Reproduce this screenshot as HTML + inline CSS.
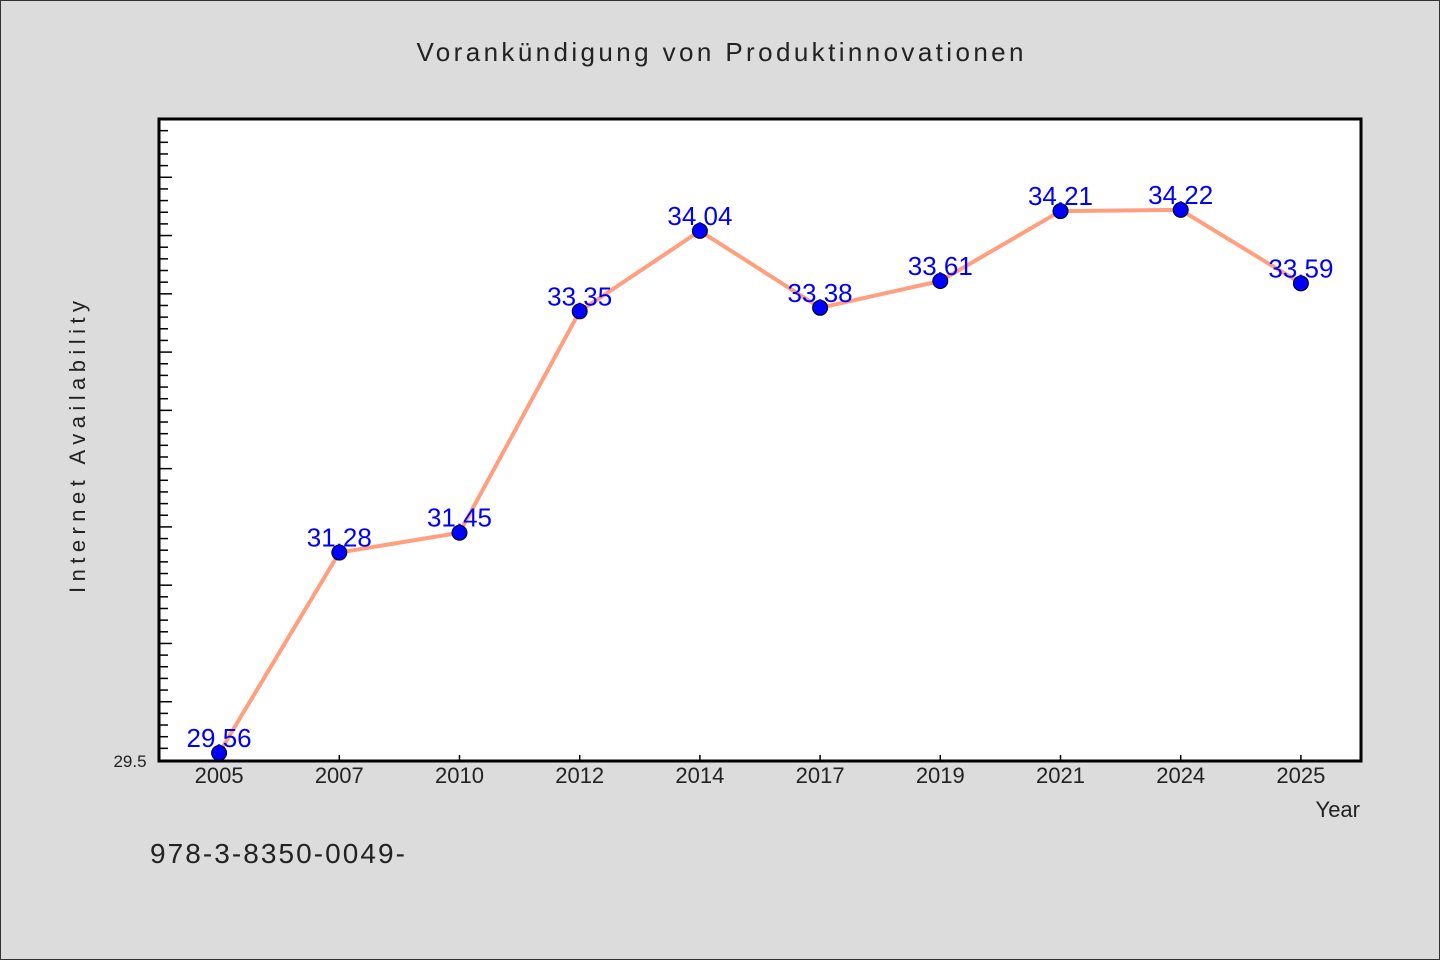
<!DOCTYPE html>
<html><head><meta charset="utf-8"><style>
html,body{margin:0;padding:0;background:#dcdcdc;}
svg{display:block;font-family:"WenQuanYi Zen Hei","Liberation Sans",sans-serif;}
</style></head><body>
<svg id="chart" width="1440" height="960" viewBox="0 0 1440 960">
<rect x="0.5" y="0.5" width="1439" height="959" fill="#dcdcdc" stroke="#333"/>
<text x="720" y="61" text-anchor="middle" font-size="26" textLength="607" fill="#222">Vorankündigung von Produktinnovationen</text>
<rect x="159" y="119" width="1202" height="642" fill="#fff"/>
<g id="ticks"></g>
<g id="series"></g>
<rect x="159" y="119" width="1202" height="642" fill="none" stroke="#000" stroke-width="3"/>
<text x="130" y="767" text-anchor="middle" font-size="17" fill="#222">29.5</text>
<text transform="translate(85,447) rotate(-90)" text-anchor="middle" font-size="22" textLength="292" fill="#222">Internet Availability</text>
<text x="1360" y="817" text-anchor="end" font-size="22" fill="#222">Year</text>
<text x="150" y="863" font-size="28" textLength="255" fill="#222">978-3-8350-0049-</text>
</svg>
<script>
const categories=["2005","2007","2010","2012","2014","2017","2019","2021","2024","2025"];
const values=[29.56,31.28,31.45,33.35,34.04,33.38,33.61,34.21,34.22,33.59];
const yMin=29.5, yMax=35.0;
const NS="http://www.w3.org/2000/svg";
const L=159,R=1361,T=119,B=760;
const band=(R-L)/categories.length;
function x(i){return L+band*(i+0.5);}
function y(v){return B-(v-yMin)/(yMax-yMin)*(B-T);}
function mk(t,a,p){const e=document.createElementNS(NS,t);for(const k in a)e.setAttribute(k,a[k]);p.appendChild(e);return e;}
const tg=document.getElementById('ticks');
for(let k=1;k<=55;k++){
  const v=yMin+k*0.1, yy=y(v), major=k%5===0;
  const t=mk('line',{x1:L,x2:L+(major?13:9),y1:yy,y2:yy,stroke:'#000','stroke-width':1.5},tg);
  
  
}
const sg=document.getElementById('series');
categories.forEach((c,i)=>{
  const t=mk('line',{x1:x(i),x2:x(i),y1:761,y2:755,stroke:'#000','stroke-width':1.5},tg);
  
  
  const lb=mk('text',{x:x(i),y:783,'text-anchor':'middle','font-size':22,fill:'#222'},tg);
  lb.textContent=c;
  
  
});
const pts=values.map((v,i)=>x(i)+','+y(v)).join(' ');
const line=mk('polyline',{points:pts,fill:'none',stroke:'#ff9f7f','stroke-width':4,'stroke-linejoin':'round'},sg);


values.forEach((v,i)=>{
  const c=mk('circle',{cx:x(i),cy:y(v),r:7.5,fill:'#0000ff',stroke:'#000','stroke-width':1},sg);
  
  
  const t=mk('text',{x:x(i),y:y(v)-6,'text-anchor':'middle','font-size':26,fill:'#0000ff'},sg);
  t.textContent=v.toFixed(2);
  
  
});
</script>
</body></html>
